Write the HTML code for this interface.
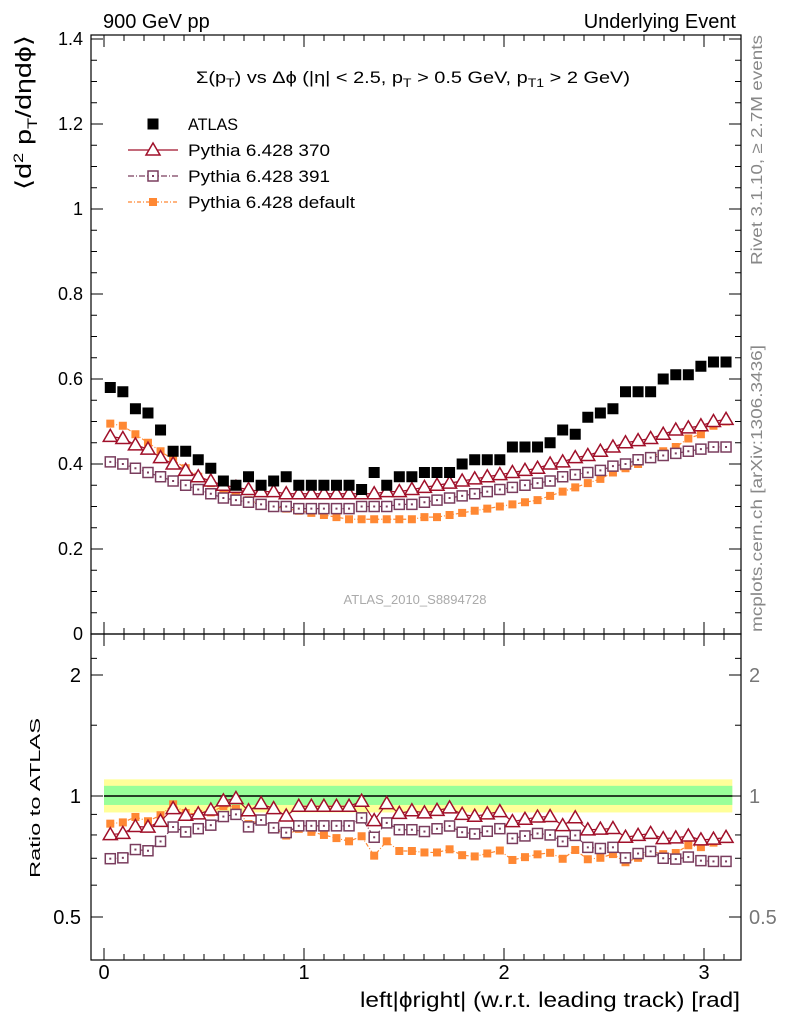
<!DOCTYPE html>
<html><head><meta charset="utf-8"><style>
body{margin:0;background:#fff;font-family:"Liberation Sans",sans-serif}
svg text{font-family:"Liberation Sans",sans-serif}
</style></head><body>
<svg id="chart" width="786" height="1024" xmlns="http://www.w3.org/2000/svg">
<text x="103" y="28" font-size="20">900 GeV pp</text>
<text x="736" y="28" font-size="20" text-anchor="end">Underlying Event</text>
<text x="196" y="83" font-size="17" textLength="434" lengthAdjust="spacingAndGlyphs">Σ(p<tspan font-size="12" dy="4">T</tspan><tspan dy="-4">) vs Δϕ (|η| &lt; 2.5, p</tspan><tspan font-size="12" dy="4">T</tspan><tspan dy="-4"> &gt; 0.5 GeV, p</tspan><tspan font-size="12" dy="4">T1</tspan><tspan dy="-4"> &gt; 2 GeV)</tspan></text>
<text transform="translate(31,190) rotate(-90)" font-size="22" textLength="155" lengthAdjust="spacingAndGlyphs">⟨d<tspan font-size="14" dy="-8">2</tspan><tspan dy="8"> p</tspan><tspan font-size="14" dy="6">T</tspan><tspan dy="-6">/dηdϕ⟩</tspan></text>
<text transform="translate(762,265) rotate(-90)" font-size="16" fill="#888" textLength="230" lengthAdjust="spacingAndGlyphs">Rivet 3.1.10, ≥ 2.7M events</text>
<text transform="translate(762,632) rotate(-90)" font-size="16" fill="#888" textLength="287" lengthAdjust="spacingAndGlyphs">mcplots.cern.ch [arXiv:1306.3436]</text>
<text x="415" y="604" font-size="13" fill="#aaa" text-anchor="middle">ATLAS_2010_S8894728</text>
<text transform="translate(40,878) rotate(-90)" font-size="15" textLength="160" lengthAdjust="spacingAndGlyphs">Ratio to ATLAS</text>
<text x="360" y="1007" font-size="21" textLength="380" lengthAdjust="spacingAndGlyphs">left|ϕright| (w.r.t. leading track) [rad]</text>
<g id="bands"></g><g id="axes"></g><g id="marks"></g><g id="legend"></g>
</svg>
<script>
const atlas=[0.58,0.57,0.53,0.52,0.48,0.43,0.43,0.41,0.39,0.36,0.35,0.37,0.35,0.36,0.37,0.35,0.35,0.35,0.35,0.35,0.34,0.38,0.35,0.37,0.37,0.38,0.38,0.38,0.40,0.41,0.41,0.41,0.44,0.44,0.44,0.45,0.48,0.47,0.51,0.52,0.53,0.57,0.57,0.57,0.60,0.61,0.61,0.63,0.64,0.64];
const py370=[0.465,0.46,0.445,0.435,0.415,0.40,0.385,0.37,0.36,0.35,0.345,0.34,0.335,0.335,0.33,0.33,0.33,0.33,0.33,0.33,0.33,0.33,0.335,0.335,0.34,0.345,0.35,0.355,0.36,0.365,0.37,0.375,0.38,0.385,0.39,0.40,0.405,0.415,0.42,0.43,0.44,0.45,0.455,0.46,0.47,0.48,0.485,0.49,0.50,0.505];
const py391=[0.405,0.40,0.39,0.38,0.37,0.36,0.35,0.34,0.33,0.32,0.315,0.31,0.305,0.30,0.30,0.295,0.295,0.295,0.295,0.295,0.30,0.30,0.30,0.305,0.305,0.31,0.315,0.32,0.325,0.33,0.335,0.34,0.345,0.35,0.355,0.36,0.37,0.375,0.38,0.385,0.395,0.40,0.41,0.415,0.42,0.425,0.43,0.435,0.44,0.44];
const pydef=[0.495,0.49,0.47,0.45,0.43,0.41,0.39,0.37,0.355,0.34,0.325,0.315,0.305,0.30,0.295,0.29,0.285,0.28,0.275,0.27,0.27,0.27,0.27,0.27,0.27,0.275,0.275,0.28,0.285,0.29,0.295,0.30,0.305,0.31,0.315,0.325,0.335,0.345,0.355,0.365,0.38,0.39,0.40,0.415,0.43,0.44,0.46,0.47,0.49,0.50];
const mainTicks=[0,0.2,0.4,0.6,0.8,1,1.2,1.4];
const mainTickLabels=["0","0.2","0.4","0.6","0.8","1","1.2","1.4"];
const xTicks=[0,1,2,3];
const ratioTicks=[0.5,1,2];
const ratioTickLabels=["0.5","1","2"];
const NS="http://www.w3.org/2000/svg";
const L=91,R=741,T=35,MB=634,RB=960;
const xs=v=>104+200*v;
const ym=v=>634-425*v;
const yr=v=>796-121*Math.log2(v);
const xc=i=>xs((i+0.5)*Math.PI/50);
function mk(p,t,a){const e=document.createElementNS(NS,t);for(const k in a)e.setAttribute(k,a[k]);p.appendChild(e);return e;}
const B=document.getElementById('bands'),A=document.getElementById('axes'),M=document.getElementById('marks'),G=document.getElementById('legend');
let yb=mk(B,'rect',{x:104,y:yr(1.1),width:xs(Math.PI)-104,height:yr(0.91)-yr(1.1),fill:'#ffff99'});


let gb=mk(B,'rect',{x:104,y:yr(1.06),width:xs(Math.PI)-104,height:yr(0.95)-yr(1.06),fill:'#99ff99'});


let one=mk(B,'line',{x1:104,x2:xs(Math.PI),y1:yr(1),y2:yr(1),stroke:'#000','stroke-width':1.5});


let f1=mk(A,'rect',{x:L,y:T,width:R-L,height:MB-T,fill:'none',stroke:'#000','stroke-width':1.2});


let f2=mk(A,'rect',{x:L,y:MB,width:R-L,height:RB-MB,fill:'none',stroke:'#000','stroke-width':1.2});


mainTicks.forEach((v,i)=>{const y=ym(v);
 mk(A,'line',{x1:L,x2:L+12,y1:y,y2:y,stroke:'#000'});mk(A,'line',{x1:R-12,x2:R,y1:y,y2:y,stroke:'#000'});
 if(i<mainTicks.length-1)for(let k=1;k<4;k++){const yy=ym(v+k*0.05);mk(A,'line',{x1:L,x2:L+6,y1:yy,y2:yy,stroke:'#000'});mk(A,'line',{x1:R-6,x2:R,y1:yy,y2:yy,stroke:'#000'});}
 const t=mk(A,'text',{x:L-8,y:y+6,'font-size':18,'text-anchor':'end'});t.textContent=mainTickLabels[i];
 
 
});
ratioTicks.forEach((v,i)=>{const y=yr(v);
 mk(A,'line',{x1:L,x2:L+12,y1:y,y2:y,stroke:'#000'});mk(A,'line',{x1:R-12,x2:R,y1:y,y2:y,stroke:'#000'});
 const t=mk(A,'text',{x:L-10,y:y+7,'font-size':20,'text-anchor':'end'});t.textContent=ratioTickLabels[i];
 
 
 const t2=mk(A,'text',{x:R+8,y:y+7,'font-size':20,fill:'#777'});t2.textContent=ratioTickLabels[i];
 
 
});
[0.6,0.7,0.8,0.9,1.5,2.2].forEach(v=>{const y=yr(v);mk(A,'line',{x1:L,x2:L+6,y1:y,y2:y,stroke:'#000'});mk(A,'line',{x1:R-6,x2:R,y1:y,y2:y,stroke:'#000'});});
for(let v=-0.1;v<=3.2;v+=0.1){const x=xs(v);if(x<L||x>R)continue;const maj=Math.abs(v-Math.round(v))<1e-6;const h=maj?12:6;
 [[T,T+h],[MB-h,MB+h],[RB-h,RB]].forEach(p=>mk(A,'line',{x1:x,x2:x,y1:p[0],y2:p[1],stroke:'#000'}));}
xTicks.forEach(v=>{const t=mk(A,'text',{x:xs(v),y:979,'font-size':20,'text-anchor':'middle'});t.textContent=String(v);
 
 });
function drawSeries(vals,ymap,color,kind,dash,name){
 const g=mk(M,'g',{});
 
 
 if(kind!=='atlas'){const pts=vals.map((v,i)=>xc(i)+','+ymap(v)).join(' ');
  mk(g,'polyline',{points:pts,fill:'none',stroke:color,'stroke-width':1.2,'stroke-dasharray':dash});}
 vals.forEach((v,i)=>{drawMarker(g,kind,xc(i),ymap(v),color);});
}
function drawMarker(g,kind,x,y,color){
 if(kind==='atlas')mk(g,'rect',{x:x-5.5,y:y-5.5,width:11,height:11,fill:'#000'});
 else if(kind==='tri')mk(g,'polygon',{points:`${x},${y-7} ${x-7},${y+5} ${x+7},${y+5}`,fill:'#fff',stroke:color,'stroke-width':1.5});
 else if(kind==='sq'){mk(g,'rect',{x:x-5,y:y-5,width:10,height:10,fill:'#fff',stroke:color,'stroke-width':1.5});mk(g,'rect',{x:x-1,y:y-1,width:2,height:2,fill:color});}
 else mk(g,'rect',{x:x-4,y:y-4,width:8,height:8,fill:color});
}
const C370='#a0102a',C391='#7a3d5e',CDEF='#ff8833';
drawSeries(pydef,ym,CDEF,'fill','4 2 1 2','series-pythia-default');
drawSeries(py391,ym,C391,'sq','6 2 1 2','series-pythia-391');
drawSeries(py370,ym,C370,'tri','','series-pythia-370');
drawSeries(atlas,ym,'#000','atlas','','series-atlas');
drawSeries(pydef.map((v,i)=>v/atlas[i]),yr,CDEF,'fill','4 2 1 2','ratio-pythia-default');
drawSeries(py391.map((v,i)=>v/atlas[i]),yr,C391,'sq','6 2 1 2','ratio-pythia-391');
drawSeries(py370.map((v,i)=>v/atlas[i]),yr,C370,'tri','','ratio-pythia-370');
const leg=[['ATLAS','atlas','#000','',50],['Pythia 6.428 370','tri',C370,'',142],['Pythia 6.428 391','sq',C391,'6 2 1 2',142],['Pythia 6.428 default','fill',CDEF,'4 2 1 2',167]];
leg.forEach((e,i)=>{const y=124+26*i;const g=mk(G,'g',{});
 
 
 if(e[1]!=='atlas')mk(g,'line',{x1:128,x2:178,y1:y,y2:y,stroke:e[2],'stroke-width':1.2,'stroke-dasharray':e[3]});
 drawMarker(g,e[1],153,y,e[2]);
 const t=mk(g,'text',{x:188,y:y+6,'font-size':17,textLength:e[4],lengthAdjust:'spacingAndGlyphs'});t.textContent=e[0];});
</script>
</body></html>
